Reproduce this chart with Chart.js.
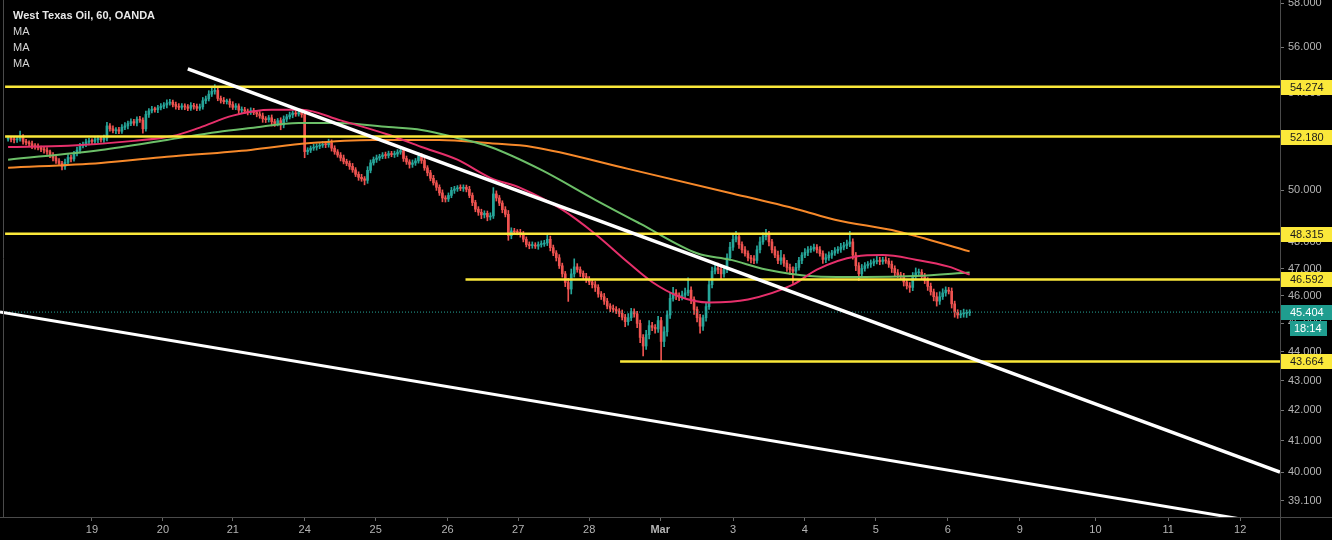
<!DOCTYPE html>
<html>
<head>
<meta charset="utf-8">
<title>West Texas Oil, 60, OANDA</title>
<script src="https://cdn.jsdelivr.net/npm/chart.js"></script>
<style>
    html, body { margin: 0; padding: 0; background: #000; }
    #wrap { position: relative; width: 1332px; height: 540px; background: #000; overflow: hidden; }
    #legend {
        position: absolute; left: 13px; top: 7px;
        font-family: 'Liberation Sans', Arial, sans-serif;
        font-size: 11px; line-height: 16px; color: #d4d4d4;
    }
    #legend b { color: #e8e8e8; }
</style>
</head>
<body>
<div id="wrap">
    <canvas id="chart" width="1332" height="540"></canvas>
    <div id="legend"><b>West Texas Oil, 60, OANDA</b><br>MA<br>MA<br>MA</div>
</div>
<script>
// hourly closes (bar 0 = first candle)
const closes = [
    52.10,52.06,52.04,52.08,52.16,51.98,51.93,51.88,51.80,51.76,51.72,51.66,51.62,51.55,51.40,51.30,51.18,51.08,50.96,51.12,
    51.32,51.26,51.48,51.62,51.80,51.86,51.95,52.00,51.98,52.05,52.10,52.04,52.12,52.62,52.50,52.42,52.46,52.40,52.56,52.62,
    52.72,52.80,52.74,52.90,52.86,52.50,53.10,53.25,53.32,53.30,53.38,53.44,53.50,53.58,53.62,53.52,53.44,53.40,53.46,53.42,
    53.36,53.48,53.44,53.36,53.42,53.68,53.76,53.96,54.08,54.12,53.78,53.70,53.64,53.66,53.52,53.40,53.46,53.28,53.30,53.24,
    53.20,53.26,53.18,53.12,53.04,52.92,52.88,52.96,52.80,52.72,52.84,52.66,52.90,53.00,53.08,53.16,53.12,53.18,53.10,51.56,
    51.62,51.70,51.74,51.78,51.82,51.86,51.84,51.92,51.70,51.55,51.42,51.30,51.16,51.08,50.96,50.82,50.64,50.52,50.46,50.40,
    50.80,51.10,51.24,51.30,51.36,51.42,51.40,51.48,51.44,51.46,51.54,51.60,51.28,51.14,51.04,51.10,51.18,51.36,51.20,50.90,
    50.70,50.48,50.30,50.12,49.90,49.70,49.66,49.80,50.00,50.06,50.10,50.08,50.12,50.04,49.80,49.52,49.26,49.14,49.04,49.10,
    48.96,49.00,49.86,49.70,49.50,49.24,49.06,48.24,48.42,48.38,48.36,48.30,48.10,47.90,47.86,47.88,47.84,47.90,47.92,47.96,
    48.10,47.78,47.58,47.40,47.10,46.80,46.48,46.24,46.80,47.06,46.96,46.82,46.70,46.60,46.50,46.40,46.30,46.06,45.96,45.80,
    45.62,45.54,45.50,45.44,45.36,45.22,45.06,45.20,45.42,45.34,45.00,44.50,44.20,44.60,44.92,44.86,44.80,45.10,44.36,44.70,
    45.30,45.90,46.10,46.00,45.94,46.02,46.10,46.20,45.86,45.50,45.20,44.90,45.20,45.60,46.40,46.90,47.02,46.96,46.80,46.96,
    47.40,47.80,48.10,48.20,47.90,47.70,47.56,47.40,47.36,47.30,47.70,48.00,48.20,48.28,48.00,47.70,47.50,47.30,47.40,47.20,
    47.04,46.96,46.90,47.04,47.30,47.50,47.60,47.70,47.74,47.80,47.70,47.56,47.34,47.40,47.50,47.58,47.66,47.72,47.80,47.86,
    47.92,48.00,47.50,47.10,46.80,47.00,47.10,47.16,47.20,47.26,47.30,47.26,47.32,47.28,47.16,47.00,46.84,46.76,46.70,46.50,
    46.36,46.30,46.70,46.84,46.86,46.70,46.56,46.34,46.14,45.96,45.80,45.96,46.10,46.20,46.16,45.70,45.40,45.30,45.34,45.36,45.38,45.40
];
const firstOpen = 52.08;
// upper / lower wick length of each candle, in cents
const wickHi = [
    10,8,12,9,25,10,8,7,11,9,12,7,9,10,7,12,9,10,8,14,
    12,10,9,13,10,9,12,10,8,12,10,9,12,15,10,12,9,10,12,14,
    10,12,9,10,12,10,14,10,12,9,10,12,10,14,12,9,10,12,10,9,
    10,12,9,10,12,14,12,15,18,25,12,10,12,9,10,12,10,9,12,10,
    9,12,10,9,10,12,9,10,12,10,9,12,14,10,12,10,9,12,10,9,
    10,9,12,10,9,12,10,15,12,10,9,10,12,9,10,12,9,10,12,9,
    15,12,10,12,9,10,12,10,9,12,10,15,12,10,9,12,10,14,12,10,
    9,10,12,9,10,12,9,10,12,10,9,12,10,9,12,10,9,10,12,10,
    9,12,25,12,10,9,12,15,12,10,9,12,10,9,10,12,9,10,12,10,
    15,12,10,9,12,10,9,15,18,30,12,10,9,12,10,9,12,10,9,12,
    10,9,12,10,9,12,10,15,12,10,9,12,10,15,18,12,10,15,12,18,
    15,18,20,12,10,15,18,45,12,10,9,12,10,15,18,15,12,18,15,12,
    15,18,15,20,12,10,12,10,9,12,15,18,15,20,12,10,12,15,28,12,
    10,12,10,15,12,10,15,12,10,12,10,12,10,15,12,10,12,10,15,12,
    15,40,12,10,12,15,12,10,12,10,15,12,10,12,10,12,10,12,10,12,
    10,12,15,18,12,10,12,10,12,10,15,18,15,12,10,12,10,9,12,15,10,9
];
const wickLo = [
    9,10,12,10,9,12,10,9,12,10,9,10,12,10,9,12,10,9,14,12,
    10,12,9,10,12,9,10,12,9,10,12,9,10,12,10,9,12,10,9,10,
    12,9,10,12,9,18,10,12,9,10,12,9,10,12,9,10,12,10,9,12,
    10,9,12,10,9,10,12,9,10,12,10,12,9,10,12,9,10,15,12,10,
    12,10,9,12,10,15,12,10,18,12,10,20,12,10,9,12,10,9,12,25,
    12,10,9,12,10,9,12,10,12,10,9,12,10,9,12,10,9,12,10,18,
    12,10,9,12,10,9,12,10,9,12,10,9,12,10,15,12,10,9,12,10,
    12,10,9,12,10,15,12,10,9,12,10,9,12,10,9,12,10,12,15,12,
    15,12,10,12,10,12,10,18,12,10,9,12,10,9,12,10,9,12,10,9,
    10,12,10,12,10,12,15,45,18,12,10,12,10,12,10,12,15,12,10,12,
    10,12,10,9,12,10,18,12,10,12,15,18,35,12,15,12,15,12,70,18,
    15,12,10,15,12,10,12,10,15,18,15,25,15,12,10,12,10,15,18,12,
    12,10,12,10,15,12,10,12,15,12,10,12,10,12,15,12,10,12,15,12,
    15,18,45,12,10,12,10,12,10,9,12,10,15,12,10,12,9,10,12,10,
    12,10,15,18,25,12,10,9,12,10,9,12,10,9,12,15,12,10,12,15,
    12,18,12,10,12,10,12,15,12,15,18,12,10,12,10,15,18,12,10,12,15,10
];

// moving averages, [bar, price]
const maFast = [[0,51.75],[20,51.80],[42,52.00],[55,52.20],[64,52.55],[75,53.05],[88,53.30],[98,53.30],
    [111,52.85],[127,52.25],[138,51.75],[150,51.23],[161,50.50],[171,50.10],[185,49.24],[196,48.30],
    [207,47.22],[215,46.50],[224,45.97],[234,45.75],[247,45.86],[262,46.40],[270,46.96],[283,47.45],
    [292,47.50],[303,47.33],[314,47.07],[321,46.77]];
const maMid = [[0,51.23],[31,51.63],[53,52.04],[70,52.37],[81,52.53],[97,52.74],[110,52.74],[127,52.57],
    [138,52.45],[150,52.12],[161,51.75],[178,50.82],[196,49.63],[211,48.70],[230,47.57],[241,47.33],
    [253,46.96],[270,46.70],[286,46.68],[303,46.72],[321,46.85]];
const maSlow = [[0,50.90],[31,51.10],[53,51.35],[81,51.63],[100,51.90],[122,52.04],[144,52.04],
    [161,51.90],[175,51.75],[207,50.86],[241,49.90],[264,49.24],[276,48.85],[297,48.40],[321,47.64]];

// drawn lines
const levels = [54.274, 52.180, 48.315, 46.592, 43.664];
const levelStart = [-1, -1, -1, 152.7, 204.3];
const trend1 = [[60, 55.05], [424.6, 40.00]];
const trend2 = [[-2.7, 45.41], [424.6, 38.34]];
const lastPrice = 45.404;
const countdown = '18:14';

// axes
const dayTicks = [28, 51.7, 75, 99, 122.7, 146.7, 170.3, 194, 217.7, 242, 266, 289.7, 313.7, 337.7, 363, 387.3, 411.3];
const dayLabels = ['19', '20', '21', '24', '25', '26', '27', '28', 'Mar', '3', '4', '5', '6', '9', '10', '11', '12'];
const yTicks = [58, 56, 54, 52, 50, 48, 47, 46, 45, 44, 43, 42, 41, 40, 39.1];
const xMin = -2.7, xMax = 424.6, yMin = 38.60, yMax = 58.14;

const UP = '#26a69a', DOWN = '#ef5350', YELLOW = '#fbe83a';
const FONT = "'Liberation Sans', Arial, sans-serif";

const wicks = [], bodies = [], candleColors = [];
closes.forEach((c, i) => {
    const o = i ? closes[i - 1] : firstOpen;
    wicks.push({ x: i, y: [Math.min(o, c) - wickLo[i] / 100, Math.max(o, c) + wickHi[i] / 100] });
    bodies.push({ x: i, y: [o, c] });
    candleColors.push(c >= o ? UP : DOWN);
});

const toPts = arr => arr.map(p => ({ x: p[0], y: p[1] }));
function lineSet(data, color, width, order, extra) {
    return Object.assign({
        type: 'line', data: data, borderColor: color, borderWidth: width,
        pointRadius: 0, fill: false, order: order
    }, extra || {});
}

const datasets = [
    { type: 'bar', data: wicks, backgroundColor: candleColors, barThickness: 1, grouped: false, order: 10 },
    { type: 'bar', data: bodies, backgroundColor: candleColors, barThickness: 2, minBarLength: 1, grouped: false, order: 9 },
    lineSet([{ x: xMin, y: lastPrice }, { x: xMax, y: lastPrice }], '#26a69a', 1, 8, { borderDash: [1, 2] }),
    lineSet(toPts(maSlow), '#f7892a', 2, 6, { cubicInterpolationMode: 'monotone' }),
    lineSet(toPts(maMid), '#6cbf68', 2, 5, { cubicInterpolationMode: 'monotone' }),
    lineSet(toPts(maFast), '#e6306b', 2, 4, { cubicInterpolationMode: 'monotone' })
];
levels.forEach((v, k) => {
    datasets.push(lineSet([{ x: levelStart[k], y: v }, { x: xMax, y: v }], YELLOW, 2.5, 3));
});
datasets.push(lineSet(toPts(trend1), '#ffffff', 3.5, 1));
datasets.push(lineSet(toPts(trend2), '#ffffff', 3, 1));

const decorPlugin = {
    id: 'decor',
    afterDraw(chart) {
        const { ctx, chartArea, scales } = chart;
        const y = scales.y;
        ctx.save();
        // frame
        ctx.strokeStyle = '#4a4a4a';
        ctx.lineWidth = 1;
        ctx.beginPath();
        ctx.moveTo(3.5, 0); ctx.lineTo(3.5, chartArea.bottom);
        ctx.moveTo(chartArea.right + 0.5, 0); ctx.lineTo(chartArea.right + 0.5, 540);
        ctx.moveTo(0, chartArea.bottom + 0.5); ctx.lineTo(1332, chartArea.bottom + 0.5);
        ctx.stroke();

        ctx.font = '11px ' + FONT;
        ctx.textBaseline = 'middle';
        levels.forEach(v => {
            const py = Math.round(y.getPixelForValue(v));
            ctx.fillStyle = YELLOW;
            ctx.fillRect(chartArea.right + 1, py - 7, 60, 15);
            ctx.fillStyle = '#1a1a1a';
            ctx.fillText(v.toFixed(3), chartArea.right + 10, py + 1);
        });
        const lp = Math.round(y.getPixelForValue(lastPrice));
        ctx.fillStyle = '#1f9d8f';
        ctx.fillRect(chartArea.right + 1, lp - 7, 60, 15);
        ctx.fillStyle = '#ffffff';
        ctx.fillText(lastPrice.toFixed(3), chartArea.right + 10, lp + 1);
        ctx.fillStyle = '#1f9d8f';
        ctx.fillRect(chartArea.right + 10, lp + 9, 37, 15);
        ctx.fillStyle = '#ffffff';
        ctx.fillText(countdown, chartArea.right + 14, lp + 17);
        ctx.restore();
    }
};

new Chart(document.getElementById('chart'), {
    type: 'bar',
    data: { datasets: datasets },
    plugins: [decorPlugin],
    options: {
        responsive: false,
        animation: false,
        events: [],
        layout: { padding: 0 },
        plugins: { legend: { display: false }, tooltip: { enabled: false } },
        scales: {
            x: {
                type: 'linear', min: xMin, max: xMax, bounds: 'data', offset: false,
                afterBuildTicks: axis => { axis.ticks = dayTicks.map(v => ({ value: v })); },
                afterFit: axis => { axis.height = 23; axis.paddingLeft = 0; axis.paddingRight = 0; },
                grid: { display: true, offset: false, drawOnChartArea: false, drawTicks: true, tickLength: 4, color: '#666' },
                border: { display: false },
                ticks: {
                    autoSkip: false, maxRotation: 0, padding: 2, color: '#b4b4b4',
                    font: ctx => ({ family: FONT, size: 11, weight: ctx.tick && ctx.tick.label === 'Mar' ? 'bold' : 'normal' }),
                    callback: (v, i) => dayLabels[i]
                }
            },
            y: {
                type: 'logarithmic', position: 'right', min: yMin, max: yMax, bounds: 'data',
                afterBuildTicks: axis => { axis.ticks = yTicks.map(v => ({ value: v })); },
                afterFit: axis => { axis.width = 52; axis.paddingTop = 0; axis.paddingBottom = 0; },
                grid: { display: true, drawOnChartArea: false, drawTicks: true, tickLength: 4, color: '#777' },
                border: { display: false },
                ticks: {
                    autoSkip: false, padding: 4, color: '#b4b4b4',
                    font: { family: FONT, size: 11 },
                    callback: v => Number(v).toFixed(3)
                }
            }
        }
    }
});
</script>
</body>
</html>
